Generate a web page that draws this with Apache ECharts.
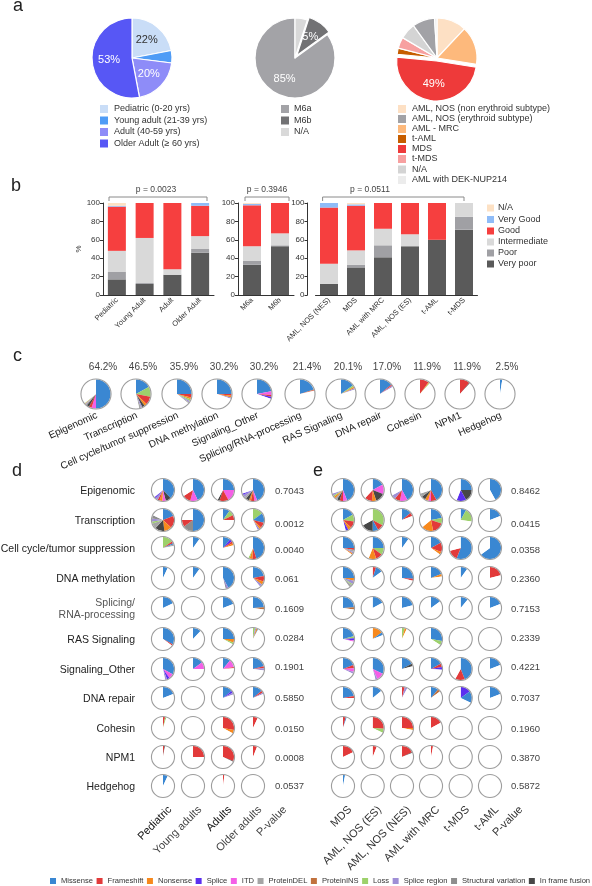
<!DOCTYPE html>
<html><head><meta charset="utf-8">
<script src="https://cdn.jsdelivr.net/npm/echarts@6/dist/echarts.min.js"></script>
<style>html,body{margin:0;padding:0;background:#fff}#c{width:592px;height:886px}</style>
</head><body><div id="c"></div>
<script>
// ================= DATA =================
// Panel a
const ageGroups = ['Pediatric (0-20 yrs)', 'Young adult (21-39 yrs)', 'Adult (40-59 yrs)', 'Older Adult (\u2265 60 yrs)'];
const agePct = [22, 5, 20, 53];
const ageLabels = ['22%', '', '20%', '53%'];
const m6Groups = ['M6a', 'M6b', 'N/A'];
const m6Pct = [85, 10, 5];
const m6Labels = ['85%', '5%', ''];
const dxGroups = ['AML, NOS (non erythroid subtype)', 'AML, NOS (erythroid subtype)', 'AML - MRC', 't-AML', 'MDS', 't-MDS', 'N/A', 'AML with DEK-NUP214'];
const dxPct = [12, 9, 15.5, 2.5, 49, 4.5, 6.5, 1];
const dxLabels = ['', '', '', '', '49%', '', '', ''];
const dxClockOrder = [0, 2, 4, 3, 5, 6, 1, 7];

// Panel b (stack order bottom -> top)
const riskNames = ['Very poor', 'Poor', 'Intermediate', 'Good', 'Very Good', 'N/A'];
const bAgeCats = ['Pediatric', 'Young Adult', 'Adult', 'Older Adult'];
const bAgeValues = [[17, 12, 22, 46], [8, 1, 0, 4], [23, 49, 6, 14], [48, 38, 72, 33], [1, 0, 0, 3], [3, 0, 0, 0]];
const bM6Cats = ['M6a', 'M6b'];
const bM6Values = [[33, 53], [4, 1], [16, 13], [44.5, 33], [1.5, 0], [1, 0]];
const bDxCats = ['AML, NOS (NES)', 'MDS', 'AML with MRC', 'AML, NOS (ES)', 't-AML', 't-MDS'];
const bDxValues = [[12, 30, 41, 53, 60, 71], [0, 3, 13, 0, 0, 14], [22, 15.5, 18, 13, 0, 15], [61, 48.5, 28, 34, 40, 0], [5, 1.5, 0, 0, 0, 0], [0, 1.5, 0, 0, 0, 0]];
const bPValues = ['p = 0.0023', 'p = 0.3946', 'p = 0.0511'];

// Mutation types (keys used in the pie strings below)
const mutTypes = ['Missense', 'Frameshift', 'Nonsense', 'Splice', 'ITD', 'ProteinDEL', 'ProteinINS', 'Loss', 'Splice region', 'Structural variation', 'In frame fusion'];
const mutKeys = ['M', 'F', 'N', 'S', 'I', 'D', 'P', 'L', 'R', 'V', 'U'];

// Panel c: % of circle per mutation type, clockwise from 12 o'clock
const cNames = ['Epigenomic', 'Transcription', 'Cell cycle/tumor suppression', 'DNA methylation', 'Signaling_Other', 'Splicing/RNA-processing', 'RAS Signaling', 'DNA repair', 'Cohesin', 'NPM1', 'Hedgehog'];
const cPct = ['64.2%', '46.5%', '35.9%', '30.2%', '30.2%', '21.4%', '20.1%', '17.0%', '11.9%', '11.9%', '2.5%'];
const cPies = ['M50 I5 F3 U3 D1.5 R0.7 N0.5 L0.5', 'M17 L11 F9 N3 U3 R1.5 D2', 'M25 F4 N2 L2 R1.5 D1.4', 'M25 F2 N2 R1.2', 'M22 I4 F2 S2.2', 'M20 P0.7 F0.7', 'M15 L2 N1.5 R1.6', 'M14 F1.5 R1.5', 'F10 N1 L0.9', 'F11 U0.9', 'M2.5'];

// Panels d / e rows
const rowNames = ['Epigenomic', 'Transcription', 'Cell cycle/tumor suppression', 'DNA methylation', 'Splicing/\nRNA-processing', 'RAS Signaling', 'Signaling_Other', 'DNA repair', 'Cohesin', 'NPM1', 'Hedgehog'];
const dColNames = ['Pediatric', 'Young adults', 'Adults', 'Older adults', 'P-value'];
const dPediatric = ['M38 U8 I5 N4 F3 R4 S2', 'M19 F18 N11 U14 D8 L3 R4 V5', 'L15 F3 M2 D2', 'M7', 'M18', 'M33 F2', 'M33 I7 S4 R3', 'M19', 'F3 L2', 'F2 U1', 'M7'];
const dYoungAdults = ['M43 I11 F12', 'M50 V15 F10', 'M10', 'M10', '', 'M12', 'M15 I10', '', '', 'F25', ''];
const dAdults = ['M25 I17 F13 U3', 'M10 L8 F7', 'M11 S4 F3 N3', 'M42 R3 U1', 'M19', 'M25 N5 L3', 'M11 I11 F2', 'M14 S3 R3', 'F28 N5', 'F31 U1', 'F2'];
const dOlderAdults = ['M44 I4 F5 N3 U5 D3 R4 S2', 'L15 M14 F8 N3 R3', 'M45 F6 N4 L2', 'M22 F8 N5 R4', 'M24 P3', 'L3 R2 N2 M1', 'M21 F3 R3', 'M14 F3 R2', 'F7', 'F6', ''];
const dPValues = ['0.7043', '0.0012', '0.0040', '0.061', '0.1609', '0.0284', '0.1901', '0.5850', '0.0150', '0.0008', '0.0537'];

const eColNames = ['MDS', 'AML, NOS (ES)', 'AML, NOS (NES)', 'AML with MRC', 't-MDS', 't-AML', 'P-value'];
const eMDS = ['M44 I6 F5 U4 D3 N3 L2 R3', 'M17 L10 F10 N5 S4', 'M25 F3 D3 R2 N2', 'M25 N4 R5 L2 D4', 'M24 P3', 'M21 L3 S3 I2', 'M19 F5 I5 R3', 'M22 F3', 'F4 M1.5', 'F18', 'M3'];
const eAMLNOS_ES = ['M17 I14 U14 N6 F11', 'L33 F9 M8 U17', 'M25 L10 F10 N11', 'F5 M10', 'M17', 'N15 M4', 'M32 I11 R3', 'M14', 'F26 L6', 'F6', ''];
const eAMLNOS_NES = ['M42 I11 F8 R6', 'M14 F5', 'M10', 'M26 F3', 'M21', 'L4 N3', 'M17 U4', 'F4 R4', 'F25 N3', 'F18 U1', ''];
const eAMLwithMRC = ['M42 F8 I4 N5 U6 D5', 'M22 L8 F17 N17', 'M17 F14 N4', 'M19 N4', 'M15', 'M28 L6', 'M17 F5 S4', 'M11 P4', 'F17', 'F3', ''];
const eTMDS = ['M25 U17 S14', 'M8 L19', 'M56 F15', 'M10', 'M11', '', 'M44 F14', 'S15 M17', '', '', ''];
const eTAML = ['M42', 'M19', 'M65', 'F21', 'M19', '', 'M19', 'M19', '', '', ''];
const ePValues = ['0.8462', '0.0415', '0.0358', '0.2360', '0.7153', '0.2339', '0.4221', '0.7037', '0.1960', '0.3870', '0.5872'];

// ================= STYLE / LAYOUT =================
const FONT = '"Liberation Sans", Arial, Helvetica, sans-serif';
const ageColors = ['#c9ddf7', '#4f9cf6', '#8e8cf8', '#5757f5'];
const ageLabelColors = ['#333', '#fff', '#fff', '#fff'];
const m6Colors = ['#a3a3a7', '#727274', '#d9d9d9'];
const dxColors = ['#fde0c4', '#a2a2a6', '#fdb97c', '#c65d00', '#ee3a3a', '#f7a0a0', '#d4d4d4', '#ececec'];
const riskColors = ['#5a5a5a', '#a0a0a4', '#d9d9d9', '#f63f3f', '#8fbcf8', '#fde1c4'];
const mutColors = ['#3a87d2', '#e23a3a', '#f7891d', '#5b2ff0', '#f45fe6', '#a5a5a5', '#c1713d', '#9dd16b', '#9f8fd6', '#8e8e8e', '#474747'];

const pieAC = [[132, 58], [295, 58], [437, 58]];
const pieAR = 40;
const legA = [{x: 100, ys: [109, 120.5, 132, 143.5]}, {x: 281, ys: [109, 120.5, 132]}, {x: 398, ys: [109, 119, 129, 139, 149, 159, 169.5, 180]}];
const grids = [{left: 103, top: 203, width: 111, height: 92}, {left: 238, top: 203, width: 56, height: 92}, {left: 315.5, top: 203, width: 162, height: 92}];
const yOffsets = [0, 0, 8];
const brackets = [[109, 207], [245, 289], [322.6, 464]];
const pTextX = [156, 267, 370];
const legB = {x: 487, ys: [208, 219.5, 231, 242, 253, 264]};
const cX = [96, 136, 177, 217, 257, 300, 341, 380, 420, 460, 500];
const cY = 394, cR = 14.5;
const rowY = [490, 520, 548, 578, 608, 639, 669, 698, 728, 757, 786];
const pValY = [491, 524, 550, 579, 609, 638, 667, 698, 729, 758, 786];
const dColX = [163, 193, 223, 253], dPX = 275;
const eColX = [343, 372.7, 402, 431, 460.7, 490], ePX = 511;
const smallR = 11;

// ================= BUILD =================
function parsePie(s) {
  s = s.trim();
  if (!s) return [];
  return s.split(/\s+/).map(t => [mutKeys.indexOf(t[0]), parseFloat(t.slice(1))]);
}
const series = [];
function smallPie(cx, cy, r, str) {
  const parts = parsePie(str);
  let sum = 0;
  const data = parts.map(([k, v]) => { sum += v; return {name: mutTypes[k], value: v, itemStyle: {color: mutColors[k]}}; });
  data.push({name: '', value: Math.max(0, 100 - sum), itemStyle: {color: '#ffffff'}});
  series.push({type: 'pie', center: [cx, cy], radius: [0, r], startAngle: 90, clockwise: true, silent: true,
    label: {show: false}, labelLine: {show: false}, itemStyle: {borderWidth: 0}, emphasis: {disabled: true}, data});
  series.push({type: 'pie', center: [cx, cy], radius: [r, r + 1.1], silent: true, label: {show: false}, labelLine: {show: false},
    emphasis: {disabled: true}, data: [{name: '', value: 1, itemStyle: {color: '#9d9d9d'}}]});
}

// big pies
function bigPie(center, items, clockwise, selOffset) {
  series.push({type: 'pie', center, radius: [0, pieAR], startAngle: 90, clockwise, silent: true,
    selectedMode: 'multiple', selectedOffset: selOffset, itemStyle: {borderColor: '#fff', borderWidth: 1.2},
    label: {show: false, position: 'inside', fontSize: 11, fontFamily: FONT}, labelLine: {show: false},
    emphasis: {disabled: true}, data: items});
}
bigPie(pieAC[0], ageGroups.map((n, i) => ({name: n, value: agePct[i], itemStyle: {color: ageColors[i]},
  label: {show: !!ageLabels[i], formatter: ageLabels[i], color: ageLabelColors[i]}})), true, 2);
bigPie(pieAC[1], m6Groups.map((n, i) => ({name: n, value: m6Pct[i], itemStyle: {color: m6Colors[i]}, selected: i === 1,
  label: {show: !!m6Labels[i], formatter: m6Labels[i], color: '#fff'}})), false, 3);
bigPie(pieAC[2], dxClockOrder.map(i => ({name: dxGroups[i], value: dxPct[i], itemStyle: {color: dxColors[i]}, selected: i === 4,
  label: {show: !!dxLabels[i], formatter: dxLabels[i], color: '#fff'}})), true, 3);

// bars
const bCats = [bAgeCats, bM6Cats, bDxCats];
const bVals = [bAgeValues, bM6Values, bDxValues];
const xAxis = [], yAxis = [];
bCats.forEach((cats, g) => {
  xAxis.push({type: 'category', gridIndex: g, data: cats,
    axisLine: {lineStyle: {color: '#333', width: 1}}, axisTick: {alignWithLabel: true, length: 3, lineStyle: {color: '#333'}},
    axisLabel: {rotate: 45, interval: 0, fontSize: 7.5, color: '#333', margin: 4, fontFamily: FONT}});
  yAxis.push({type: 'value', gridIndex: g, min: 0, max: 100, interval: 20, offset: yOffsets[g],
    axisLine: {show: true, lineStyle: {color: '#333', width: 1}}, axisTick: {show: true, length: 3, lineStyle: {color: '#333'}},
    axisLabel: {fontSize: 8, color: '#333', margin: 3, fontFamily: FONT}, splitLine: {show: false},
    name: g === 0 ? '%' : '', nameLocation: 'middle', nameGap: 19, nameRotate: 90, nameTextStyle: {fontSize: 8, color: '#333'}});
  riskNames.forEach((rn, r) => {
    series.push({type: 'bar', name: rn, xAxisIndex: g, yAxisIndex: g, stack: 'g' + g, barWidth: 18, silent: true,
      itemStyle: {color: riskColors[r]}, data: bVals[g][r]});
  });
});

// small pies
cPies.forEach((s, i) => smallPie(cX[i], cY, cR, s));
const dCols = [dPediatric, dYoungAdults, dAdults, dOlderAdults];
const eCols = [eMDS, eAMLNOS_ES, eAMLNOS_NES, eAMLwithMRC, eTMDS, eTAML];
dCols.forEach((col, c) => col.forEach((s, r) => smallPie(dColX[c], rowY[r], smallR, s)));
eCols.forEach((col, c) => col.forEach((s, r) => smallPie(eColX[c], rowY[r], smallR, s)));

// graphics
const G = [];
function txt(x, y, text, size, o) {
  o = o || {};
  G.push({type: 'text', x, y, rotation: o.rot || 0, silent: true, z: 100,
    style: {text, fill: o.color || '#333', fontSize: size, fontFamily: FONT, fontWeight: o.weight || 'normal',
      align: o.align || 'left', verticalAlign: o.va || 'middle', lineHeight: o.lh || undefined}});
}
function sq(x, y, s, color) {
  G.push({type: 'rect', silent: true, z: 100, shape: {x, y: y - s / 2, width: s, height: s}, style: {fill: color}});
}
// panel letters
txt(13, 6, 'a', 18, {color: '#222'});
txt(11, 186.5, 'b', 18, {color: '#222'});
txt(13, 356.5, 'c', 18, {color: '#222'});
txt(12, 471.5, 'd', 18, {color: '#222'});
txt(313, 471.5, 'e', 18, {color: '#222'});
// panel a legends
ageGroups.forEach((n, i) => { sq(legA[0].x, legA[0].ys[i], 8, ageColors[i]); txt(legA[0].x + 14, legA[0].ys[i], n, 9); });
m6Groups.forEach((n, i) => { sq(legA[1].x, legA[1].ys[i], 8, m6Colors[i]); txt(legA[1].x + 13, legA[1].ys[i], n, 9); });
dxGroups.forEach((n, i) => { sq(legA[2].x, legA[2].ys[i], 8, dxColors[i]); txt(legA[2].x + 14, legA[2].ys[i], n, 9); });
// panel b brackets + legend
brackets.forEach((b, i) => {
  G.push({type: 'polyline', silent: true, z: 100, shape: {points: [[b[0], 201], [b[0], 197], [b[1], 197], [b[1], 201]]},
    style: {stroke: '#8a8a8a', lineWidth: 1, fill: null}});
  txt(pTextX[i], 190, bPValues[i], 8.5, {align: 'center', color: '#444'});
});
riskNames.slice().reverse().forEach((n, i) => {
  const ri = riskNames.length - 1 - i;
  sq(legB.x, legB.ys[i], 7, riskColors[ri]);
  txt(legB.x + 11, legB.ys[i], n, 9);
});
// panel c labels
cPct.forEach((p, i) => txt(cX[i] + 7, 367, p, 10, {align: 'center', color: '#444'}));
cNames.forEach((n, i) => txt(cX[i] + 1, 415, n, 10, {align: 'right', rot: 24 * Math.PI / 180, color: '#222'}));
// panels d / e labels
rowNames.forEach((n, i) => txt(135, rowY[i] + 1, n, 10.5, {align: 'right', color: i === 4 ? '#555' : '#222', lh: 11.5}));
dPValues.forEach((p, i) => txt(dPX, pValY[i], p, 9.5, {color: '#444'}));
ePValues.forEach((p, i) => txt(ePX, pValY[i], p, 9.5, {color: '#444'}));
const dLabX = dColX.concat([dPX + 3]);
dColNames.forEach((n, i) => txt(dLabX[i] + 7, 808, n, 11, {align: 'right', rot: Math.PI / 4, color: (i === 0 || i === 2) ? '#111' : '#444'}));
const eLabX = eColX.concat([ePX + 3]);
eColNames.forEach((n, i) => txt(eLabX[i] + 7, 808, n, 11, {align: 'right', rot: Math.PI / 4, color: '#333'}));

const option = {
  animation: false,
  backgroundColor: '#fff',
  textStyle: {fontFamily: FONT},
  legend: {data: mutTypes, left: 50, top: 877, itemWidth: 6, itemHeight: 6, itemGap: 3.5, icon: 'rect', padding: 0,
    selectedMode: false, textStyle: {fontSize: 7.6, color: '#333', fontFamily: FONT}},
  grid: grids,
  xAxis, yAxis, series,
  graphic: {elements: G}
};
const chart = echarts.init(document.getElementById('c'), null, {renderer: 'canvas', width: 592, height: 886});
chart.setOption(option);
</script>
</body></html>
